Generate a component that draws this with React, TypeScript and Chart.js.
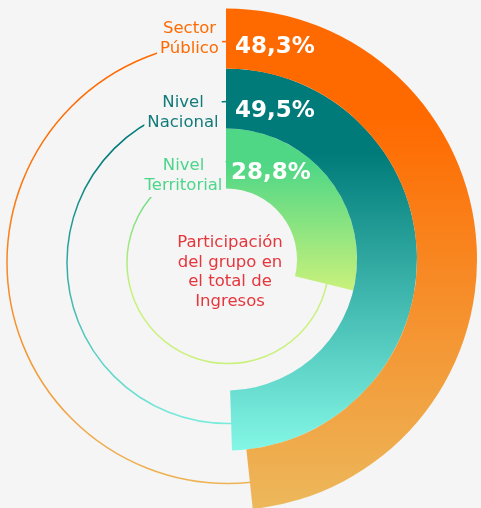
import React, { useEffect, useRef } from 'react';
import { Chart, registerables } from 'chart.js';

Chart.register(...registerables);

// ---- data ----
const groups = ['Sector Público', 'Nivel Nacional', 'Nivel Territorial'];
const groupLabelLines = [
  ['Sector', 'Público'],
  ['Nivel', 'Nacional'],
  ['Nivel', 'Territorial'],
];
const shares = [48.3, 49.5, 28.8];
const centerLines = ['Participación', 'del grupo en', 'el total de', 'Ingresos'];

// ---- styles ----
const BG = '#f5f5f5';
const FONT = '"DejaVu Sans", Verdana, sans-serif';
const gradientStops = [
  ['#FF6A00', '#ECB85B'],
  ['#007B79', '#84F7E6'],
  ['#4FD786', '#C9F17B'],
];
const labelColors = ['#FF6A00', '#127B7A', '#4CD68A'];
const centerColor = '#E5363C';
// label layout offsets relative to ring geometry
const labelDx = [-36.5, -43, -42.5];
const labelBaseDy = [-5.7, 8.8, 11.5];
const pctDx = [9, 9, 5];
const pctBaseDy = [14.3, 18.8, 20.8];
const trackShiftX = 2;
const trackShiftY = 3;

const fmt = (v: number) => v.toFixed(1).replace('.', ',') + '%';

const tracksPlugin = {
  id: 'tracks',
  beforeDatasetsDraw(chart: any) {
    const ctx = chart.ctx;
    chart.data.datasets.forEach((_: any, i: number) => {
      const arc: any = chart.getDatasetMeta(i).data[0];
      if (!arc) return;
      const mid = (arc.innerRadius + arc.outerRadius) / 2;
      ctx.save();
      ctx.beginPath();
      ctx.arc(arc.x + trackShiftX, arc.y + trackShiftY, mid, 0, Math.PI * 2);
      ctx.strokeStyle = arc.options.backgroundColor;
      ctx.lineWidth = 1.5;
      ctx.stroke();
      ctx.restore();
    });
  },
};

const labelsPlugin = {
  id: 'ringLabels',
  afterDatasetsDraw(chart: any) {
    const ctx = chart.ctx;
    chart.data.datasets.forEach((_: any, i: number) => {
      const arc: any = chart.getDatasetMeta(i).data[0];
      if (!arc) return;
      const mid = (arc.innerRadius + arc.outerRadius) / 2;
      const topY = arc.y - mid;
      ctx.save();
      // group label with background box
      ctx.font = `16.5px ${FONT}`;
      const lines = groupLabelLines[i];
      const cxL = arc.x + labelDx[i];
      const b0 = topY + labelBaseDy[i];
      const w = Math.max(...lines.map((l) => ctx.measureText(l).width));
      ctx.fillStyle = BG;
      ctx.fillRect(cxL - w / 2 - 3, b0 - 17, w + 6, 20 * lines.length + 4);
      ctx.fillStyle = labelColors[i];
      ctx.textAlign = 'center';
      ctx.textBaseline = 'alphabetic';
      lines.forEach((l, k) => ctx.fillText(l, cxL, b0 + k * 20));
      // percent
      ctx.font = `bold 23px ${FONT}`;
      ctx.fillStyle = '#ffffff';
      ctx.textAlign = 'left';
      ctx.fillText(fmt(shares[i]), arc.x + pctDx[i], topY + pctBaseDy[i]);
      ctx.restore();
    });
    // center text
    const a0: any = chart.getDatasetMeta(0).data[0];
    if (a0) {
      ctx.save();
      ctx.font = `16.5px ${FONT}`;
      ctx.fillStyle = centerColor;
      ctx.textAlign = 'center';
      ctx.textBaseline = 'alphabetic';
      centerLines.forEach((l, k) => ctx.fillText(l, a0.x + 4, a0.y - 12.8 + k * 19.8));
      ctx.restore();
    }
  },
};

export default function App() {
  const ref = useRef<HTMLCanvasElement | null>(null);
  useEffect(() => {
    if (!ref.current) return;
    const makeBg = (i: number) => (c: any) => {
      if (c.dataIndex !== 0) return 'rgba(0,0,0,0)';
      const chart = c.chart;
      const area = chart.chartArea;
      const ctrl: any = chart.getDatasetMeta(i).controller;
      if (!area || !ctrl || !ctrl.outerRadius) return gradientStops[i][0];
      const R = ctrl.outerRadius;
      const cy = (area.top + area.bottom) / 2 + (ctrl.offsetY || 0);
      const endA = -Math.PI / 2 + (2 * Math.PI * shares[i]) / 100;
      const lowest = endA >= Math.PI / 2 ? cy + R : cy + R * Math.sin(endA);
      const g = chart.ctx.createLinearGradient(0, cy - R, 0, lowest);
      g.addColorStop(0, gradientStops[i][0]);
      g.addColorStop(0.22, gradientStops[i][0]);
      g.addColorStop(1, gradientStops[i][1]);
      return g;
    };
    const chart = new Chart(ref.current, {
      type: 'doughnut',
      data: {
        labels: ['Participación', 'Resto'],
        datasets: shares.map((v, i) => ({
          label: groups[i],
          data: [v, 100 - v],
          backgroundColor: makeBg(i),
          borderWidth: 0,
          hoverOffset: 0,
        })),
      },
      options: {
        responsive: false,
        devicePixelRatio: 1,
        animation: false,
        radius: 251,
        cutout: '28.3%',
        layout: { padding: { left: 0, right: 29, top: 11, bottom: 0 } },
        plugins: { legend: { display: false }, tooltip: { enabled: false } },
        events: [],
      } as any,
      plugins: [tracksPlugin, labelsPlugin],
    });
    return () => chart.destroy();
  }, []);
  return (
    <div style={{ position: 'fixed', left: 0, top: 0, width: 481, height: 508, background: BG }}>
      <canvas ref={ref} width={481} height={508} style={{ width: 481, height: 508, display: 'block' }} />
    </div>
  );
}
